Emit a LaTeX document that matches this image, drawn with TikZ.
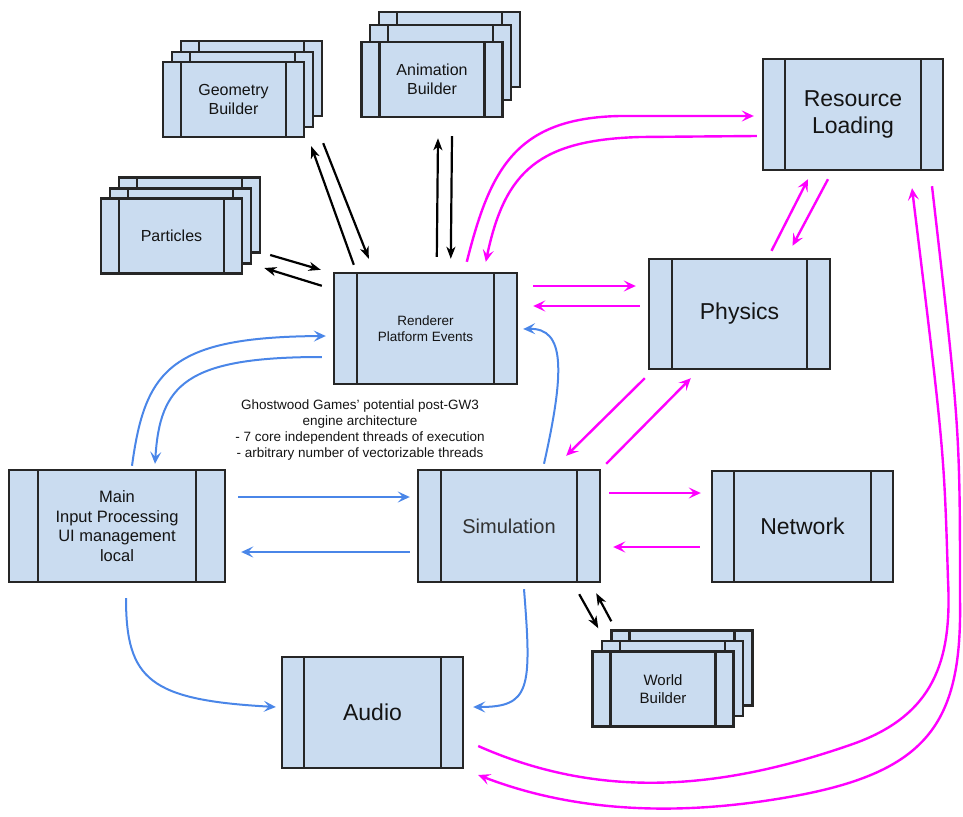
\documentclass[tikz,border=0pt]{standalone}
\usepackage{fontspec}
\setmainfont{Liberation Sans}
\usetikzlibrary{arrows.meta,calc}

\definecolor{boxfill}{RGB}{202,220,240}
\definecolor{linkblue}{RGB}{74,134,232}
\definecolor{linkpink}{RGB}{255,0,255}
\definecolor{inktext}{RGB}{20,20,20}
\definecolor{softtext}{RGB}{50,50,50}

\tikzset{
  sidebar/.store in=\sidebarw, sidebar=23pt,
  proc/.style={rectangle, draw=black!85, line width=2.4pt, fill=boxfill,
    inner sep=0pt, align=center, text=inktext,
    path picture={\draw[line width=2.4pt, black!85]
      ([xshift=\sidebarw]path picture bounding box.north west) --
      ([xshift=\sidebarw]path picture bounding box.south west)
      ([xshift=-\sidebarw]path picture bounding box.north east) --
      ([xshift=-\sidebarw]path picture bounding box.south east);}},
  bigtxt/.style={font=\fontsize{23}{27}\selectfont},
  smalltxt/.style={font=\fontsize{16}{19}\selectfont},
  inklink/.style={draw=black, line width=2.2pt,
    -{Stealth[length=12pt,width=9pt,inset=3.5pt]}},
  pinklink/.style={draw=linkpink, line width=2.4pt,
    -{Stealth[length=12pt,width=11pt,inset=5pt]}},
  bluelink/.style={draw=linkblue, line width=2pt,
    -{Stealth[length=12pt,width=11pt,inset=5pt]}},
}

\begin{document}
\begin{tikzpicture}[x=1pt,y=-1pt]
\useasboundingbox (0,0) rectangle (963,816);

% ---- core threads ----
\node[proc, minimum width=183pt, minimum height=111pt,
      font=\fontsize{13.5}{16}\selectfont] (rend) at (425.5,328.5)
  {Renderer\\Platform Events};
\node[proc, bigtxt, minimum width=181pt, minimum height=110pt] (phys) at (739.5,314) {Physics};
\node[proc, bigtxt, sidebar=22pt, minimum width=180pt, minimum height=111pt] (res) at (853,114.5)
  {Resource\\Loading};
\node[proc, sidebar=29pt, minimum width=216pt, minimum height=112pt,
      font=\fontsize{16.5}{19.5}\selectfont] (main) at (117,526)
  {Main\\Input Processing\\UI management\\local};
\node[proc, minimum width=182pt, minimum height=112pt, text=softtext,
      font=\fontsize{20}{24}\selectfont] (sim) at (509,526) {Simulation};
\node[proc, bigtxt, sidebar=22pt, minimum width=181pt, minimum height=111pt] (net) at (802.5,526.5) {Network};
\node[proc, bigtxt, sidebar=22pt, minimum width=181pt, minimum height=111pt] (audio) at (372.5,712.5) {Audio};

% ---- stacked worker boxes ----
\begin{scope}[every node/.append style={proc, smalltxt, sidebar=18pt,
    minimum width=141pt, minimum height=75pt}]
  \node (geomB) at (251.5,78.5) {};
  \node (geomM) at (242.5,89.5) {};
  \node (geom)  at (233.5,99.5) {Geometry\\Builder};
  \node (animB) at (449.5,49.5) {};
  \node (animM) at (440.5,62.5) {};
  \node (anim)  at (432,79.5) {Animation\\Builder};
  \node (partB) at (189.5,215) {};
  \node (partM) at (180.5,226) {};
  \node (part)  at (171.5,236) {Particles};
  \node (worldB) at (682,668) {};
  \node (worldM) at (672.5,678.5) {};
  \node[font=\fontsize{15}{18}\selectfont] (world) at (663,689) {World\\Builder};
\end{scope}

% ---- caption ----
\node[align=center, text=inktext, font=\fontsize{13.5}{16}\selectfont] (note) at (360,430)
  {Ghostwood Games' potential post-GW3\\engine architecture\\
   - 7 core independent threads of execution\\
   - arbitrary number of vectorizable threads};

% ---- renderer helpers (black) ----
\draw[inklink] ([shift={(21,-7)}]rend.north west) -- ([shift={(6,8)}]geom.south east);
\draw[inklink] ([shift={(18,5)}]geom.south east) -- ([shift={(36,-13)}]rend.north west);
\draw[inklink] ([shift={(104,-15)}]rend.north west) -- ([shift={(6,20)}]anim.south);
\draw[inklink] ([shift={(20,18)}]anim.south) -- ([shift={(118,-13)}]rend.north west);
\draw[inklink] ([shift={(27,19)}]part.east) -- ([shift={(-12,-2)}]rend.north west);
\draw[inklink] ([shift={(-11,14)}]rend.north west) -- ([shift={(21,32)}]part.east);
\draw[inklink] ([shift={(-22,11)}]sim.south east) -- ([shift={(7,-22)}]world.north west);
\draw[inklink] ([shift={(20,-29)}]world.north west) -- ([shift={(-5,10)}]sim.south east);

% ---- magenta links ----
\draw[pinklink] ([shift={(134,-10)}]rend.north west)
  .. controls (490,170) and (515,118) .. (620,116) -- ([shift={(-8,1.5)}]res.west);
\draw[pinklink] ([shift={(-5,21.5)}]res.west) -- (640,137)
  .. controls (540,140) and (505,170) .. ([shift={(153,-10)}]rend.north west);
\draw[pinklink] ([shift={(15,-42.5)}]rend.east) -- ([shift={(-12,-28)}]phys.west);
\draw[pinklink] ([shift={(-8,-8)}]phys.west) -- ([shift={(15,-22.5)}]rend.east);
\draw[pinklink] ([shift={(-3,8)}]phys.south west) -- ([shift={(-35,-13)}]sim.north east);
\draw[pinklink] ([shift={(5,-5)}]sim.north east) -- ([shift={(43,8)}]phys.south west);
\draw[pinklink] ([shift={(32,-7)}]phys.north) -- ([shift={(-45,8)}]res.south);
\draw[pinklink] ([shift={(-25,8)}]res.south) -- ([shift={(53,-12)}]phys.north);
\draw[pinklink] ([shift={(8,-33)}]sim.east) -- ([shift={(-10,-33.5)}]net.west);
\draw[pinklink] ([shift={(-11,20.5)}]net.west) -- ([shift={(12,21)}]sim.east);
\draw[pinklink] ([shift={(14,33.5)}]audio.east)
  .. controls (600,800) and (720,790) .. (850,745)
  .. controls (935,716) and (952,660) .. (948,580)
  .. controls (944,450) .. ([shift={(59,17)}]res.south);
\draw[pinklink] ([shift={(79,15)}]res.south)
  .. controls (960,430) .. (960,600)
  .. controls (962,720) and (930,770) .. (800,795)
  .. controls (720,810) and (600,822) .. ([shift={(14,62.5)}]audio.east);

% ---- blue links ----
\draw[bluelink] ([shift={(15,-3)}]main.north)
  .. controls (145,370) and (170,337) .. ([shift={(-7,7.5)}]rend.west);
\draw[bluelink] ([shift={(-11,28.5)}]rend.west)
  .. controls (185,357) and (160,385) .. ([shift={(38,-5)}]main.north);
\draw[bluelink] ([shift={(12,-29)}]main.east) -- ([shift={(-7,-29)}]sim.west);
\draw[bluelink] ([shift={(-7,26)}]sim.west) -- ([shift={(15,26)}]main.east);
\draw[bluelink] ([shift={(35,-5)}]sim.north)
  .. controls (565,370) and (565,328) .. ([shift={(5,0.5)}]rend.east);
\draw[bluelink] ([shift={(9,15)}]main.south)
  .. controls (126,680) and (150,700) .. ([shift={(-5,-5.5)}]audio.west);
\draw[bluelink] ([shift={(15,6)}]sim.south)
  .. controls (532,690) and (530,707) .. ([shift={(9,-5.5)}]audio.east);
\end{tikzpicture}
\end{document}
